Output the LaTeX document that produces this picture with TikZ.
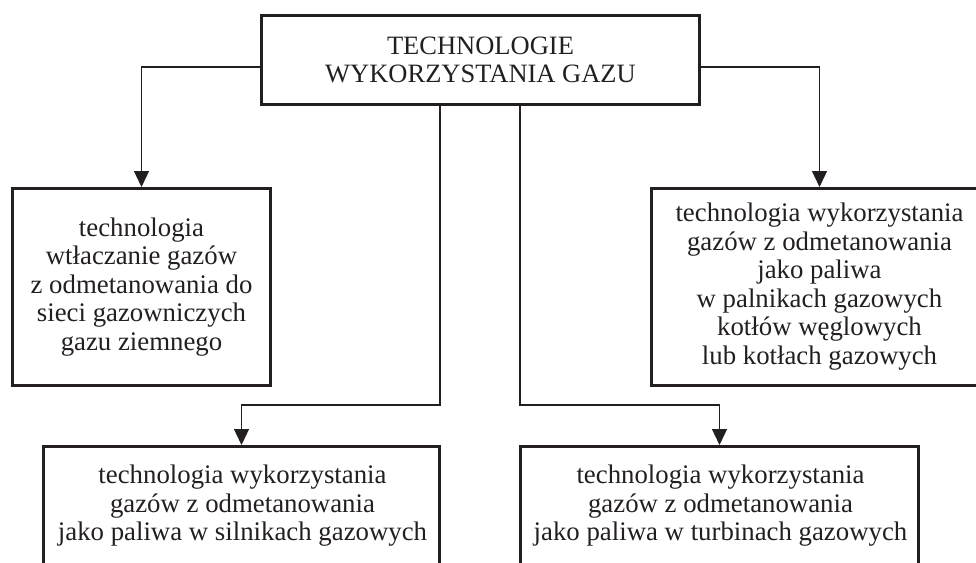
\documentclass[tikz,border=0pt]{standalone}
\usepackage{fontspec}
\setmainfont{Liberation Serif}
\usetikzlibrary{arrows.meta}
\definecolor{ink}{RGB}{35,31,32}
\begin{document}
\begin{tikzpicture}[x=1pt,y=-1pt,
  box/.style={draw=ink, line width=3pt, rectangle, inner sep=0pt, align=center, text=ink,
              font=\fontsize{26.8}{28.5}\selectfont},
  txt/.style={inner sep=0pt, align=center, text=ink, font=\fontsize{26.8}{28.5}\selectfont},
  conn/.style={draw=ink, line width=1.3pt, -{Triangle[length=16pt,width=15pt]}}
]
\useasboundingbox (0,0) rectangle (976,562);
\begin{scope}
\clip (0,0) rectangle (976,562);
\node[box, minimum width=438, minimum height=89, font=\fontsize{26.5}{28.5}\selectfont] (top) at (480.5,60)
  {TECHNOLOGIE\\WYKORZYSTANIA GAZU};
\node[box, minimum width=257.5, minimum height=197] (lt) at (141.5,287)
  {technologia\\wtłaczanie gazów\\z odmetanowania do\\sieci gazowniczych\\gazu ziemnego};
\node[box, minimum width=337, minimum height=196.5] (rt) at (819.5,286.75)
  {technologia wykorzystania\\gazów z odmetanowania\\jako paliwa\\w palnikach gazowych\\kotłów węglowych\\lub kotłach gazowych};
\node[box, minimum width=396, minimum height=200, anchor=north] (bl) at (241.5,445) {};
\node[box, minimum width=398, minimum height=200, anchor=north] (br) at (719.5,445) {};
\node[txt] (blt) at (242.5,506)
  {technologia wykorzystania\\gazów z odmetanowania\\jako paliwa w silnikach gazowych};
\node[txt] (brt) at (720.5,506)
  {technologia wykorzystania\\gazów z odmetanowania\\jako paliwa w turbinach gazowych};
\coordinate (kL) at (440,405);
\coordinate (kR) at (520,405);
\draw[conn] ([yshift=-7pt]top.west) -| (lt.north);
\draw[conn] ([yshift=-7pt]top.east) -| (rt.north);
\draw[conn] (top.south -| kL) -- (kL) -| (bl.north);
\draw[conn] (top.south -| kR) -- (kR) -| (br.north);
\end{scope}
\end{tikzpicture}
\end{document}
